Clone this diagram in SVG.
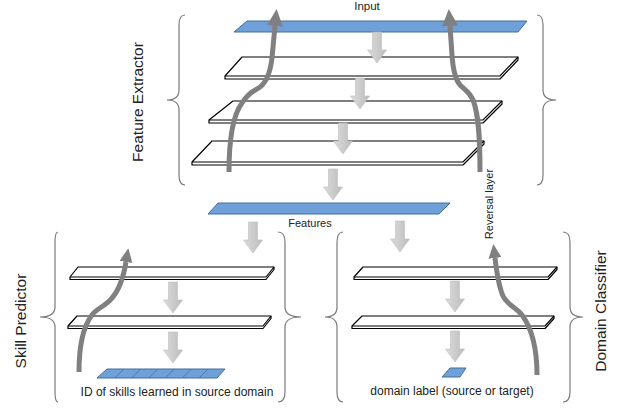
<svg xmlns="http://www.w3.org/2000/svg" width="618" height="409" viewBox="0 0 618 409">
<style>
text{font-family:"Liberation Sans",Arial,sans-serif;fill:#222}
.brace{fill:none;stroke:#7a7a7a;stroke-width:1.2}
.slab{fill:#fff;stroke:#000;stroke-width:1.2;stroke-linejoin:round}
.edge{fill:none;stroke:#000;stroke-width:1.2}
.blue{fill:#6fa0d8;stroke:#41719c;stroke-width:1}
.flow{fill:url(#g);stroke:#bdbdbd;stroke-width:0.6}
.rev{fill:none;stroke:#808080;stroke-width:5}
.side{font-size:15.5px}
</style>
<defs>
<linearGradient id="g" x1="0" y1="0" x2="1" y2="0">
<stop offset="0" stop-color="#dcdcdc"/><stop offset="1" stop-color="#bcbcbc"/>
</linearGradient>
<path id="da" d="M-4.5,0 H4.5 V18 H9.5 L0,31 L-9.5,18 H-4.5 Z"/>
<marker id="hb" viewBox="0 0 17 16" refX="0" refY="8" markerWidth="17" markerHeight="16" markerUnits="userSpaceOnUse" orient="auto"><path d="M0,0 L17,8 L0,16 Z" fill="#808080"/></marker>
<marker id="hs" viewBox="0 0 14 13" refX="0" refY="6.5" markerWidth="14" markerHeight="13" markerUnits="userSpaceOnUse" orient="auto"><path d="M0,0 L14,6.5 L0,13 Z" fill="#808080"/></marker>
</defs>
<rect width="618" height="409" fill="#fff"/>

<g id="feature-extractor">
<path class="brace" d="M185,15 Q179,15 179,25 L179,90 Q179,100 167,100 Q179,100 179,110 L179,175 Q179,185 185,185"/>
<path class="brace" d="M537,15 Q543,15 543,25 L543,90 Q543,100 556,100 Q543,100 543,110 L543,175 Q543,185 537,185"/>
<text class="side" transform="translate(143,102) rotate(-90)" text-anchor="middle">Feature Extractor</text>
<g id="input">
<polygon class="blue" points="247,21 527,21 518,32 234,32"/>
<text x="367" y="10" font-size="11.5" text-anchor="middle">Input</text>
</g>
<g id="fe-layer1"><polygon class="slab" points="242,57 518,57 518,60 500,79 225,79 225,76"/><polyline class="edge" points="225,76 500,76 518,57"/></g>
<g id="fe-layer2"><polygon class="slab" points="233,101 502,101 502,104 483,123 209,123 209,120"/><polyline class="edge" points="209,120 483,120 502,101"/></g>
<g id="fe-layer3"><polygon class="slab" points="212,141 484,141 484,144 463,165 192,165 192,162"/><polyline class="edge" points="192,162 463,162 484,141"/></g>
</g>

<g id="features">
<polygon class="blue" points="218,203 450,203 439,214 208,214"/>
<text x="310" y="227" font-size="11" text-anchor="middle">Features</text>
</g>

<g id="skill-predictor">
<path class="brace" d="M58,232 Q55,232 55,242 L55,307 Q55,317 40,317 Q55,317 55,327 L55,392 Q55,402 58,402"/>
<path class="brace" d="M278,232 Q285,232 285,242 L285,307 Q285,317 301,317 Q285,317 285,327 L285,392 Q285,402 278,402"/>
<text class="side" transform="translate(26,321) rotate(-90)" text-anchor="middle">Skill Predictor</text>
<g id="sp-layer1"><polygon class="slab" points="78,267 274,267 274,269.5 266,279.5 70,279.5 70,277"/><polyline class="edge" points="70,277 266,277 274,267"/></g>
<g id="sp-layer2"><polygon class="slab" points="77,316 271,316 271,318.5 263,328.5 68,328.5 68,326"/><polyline class="edge" points="68,326 263,326 271,316"/></g>
<g id="skill-ids">
<polygon class="blue" points="107,369 225,369 217,378 97,378"/>
<path fill="none" stroke="#41719c" stroke-width="0.8" d="M123.9,369 l-9,9 M140.7,369 l-9,9 M157.6,369 l-9,9 M174.4,369 l-9,9 M191.3,369 l-9,9 M208.1,369 l-9,9"/>
<text x="177" y="396" font-size="12" text-anchor="middle">ID of skills learned in source domain</text>
</g>
</g>

<g id="domain-classifier">
<path class="brace" d="M343,232 Q337,232 337,242 L337,307 Q337,317 325,317 Q337,317 337,327 L337,392 Q337,402 343,402"/>
<path class="brace" d="M563,232 Q570,232 570,242 L570,307 Q570,317 583,317 Q570,317 570,327 L570,392 Q570,402 563,402"/>
<text class="side" transform="translate(606,311) rotate(-90)" text-anchor="middle">Domain Classifier</text>
<g id="dc-layer1"><polygon class="slab" points="363,267 557,267 557,269.5 548,279.5 354,279.5 354,277"/><polyline class="edge" points="354,277 548,277 557,267"/></g>
<g id="dc-layer2"><polygon class="slab" points="362,316 554,316 554,318.5 545,328.5 352,328.5 352,326"/><polyline class="edge" points="352,326 545,326 554,316"/></g>
<g id="domain-label">
<polygon class="blue" points="450,368 466,368 460,377 442,377"/>
<text x="452" y="395" font-size="12" text-anchor="middle">domain label (source or target)</text>
</g>
</g>

<g id="connectors">
<use href="#da" class="flow" transform="translate(377,32)"/>
<use href="#da" class="flow" transform="translate(360,78)"/>
<use href="#da" class="flow" transform="translate(343,123)"/>
<use href="#da" class="flow" transform="translate(333,169)"/>
<use href="#da" class="flow" transform="translate(253,222)"/>
<use href="#da" class="flow" transform="translate(173,282)"/>
<use href="#da" class="flow" transform="translate(173,332)"/>
<use href="#da" class="flow" transform="translate(400,221)"/>
<use href="#da" class="flow" transform="translate(455,281)"/>
<use href="#da" class="flow" transform="translate(455,331)"/>
<path class="rev" marker-end="url(#hb)" d="M229,172 C229,140 233,115 242,103 C247,95 251,92 257,89 C265,85 270,75 272,58 L275,26"/>
<path class="rev" marker-end="url(#hb)" d="M480,172 C480,140 479,115 473,100 C469,91 465,90 460,85 C455,79 453,70 452,55 L450,26"/>
<path class="rev" marker-end="url(#hs)" d="M79,372 C79,350 82,328 92,315 C97,308 106,306 112,298 C119,290 123,280 126,262"/>
<path class="rev" marker-end="url(#hs)" d="M537,375 C537,352 533,330 522,315 C516,307 508,306 503,296 C499,287 497,275 495,258"/>
<text x="0" y="0" font-size="11" text-anchor="middle" transform="translate(493,204) rotate(-90)">Reversal layer</text>
</g>
</svg>
